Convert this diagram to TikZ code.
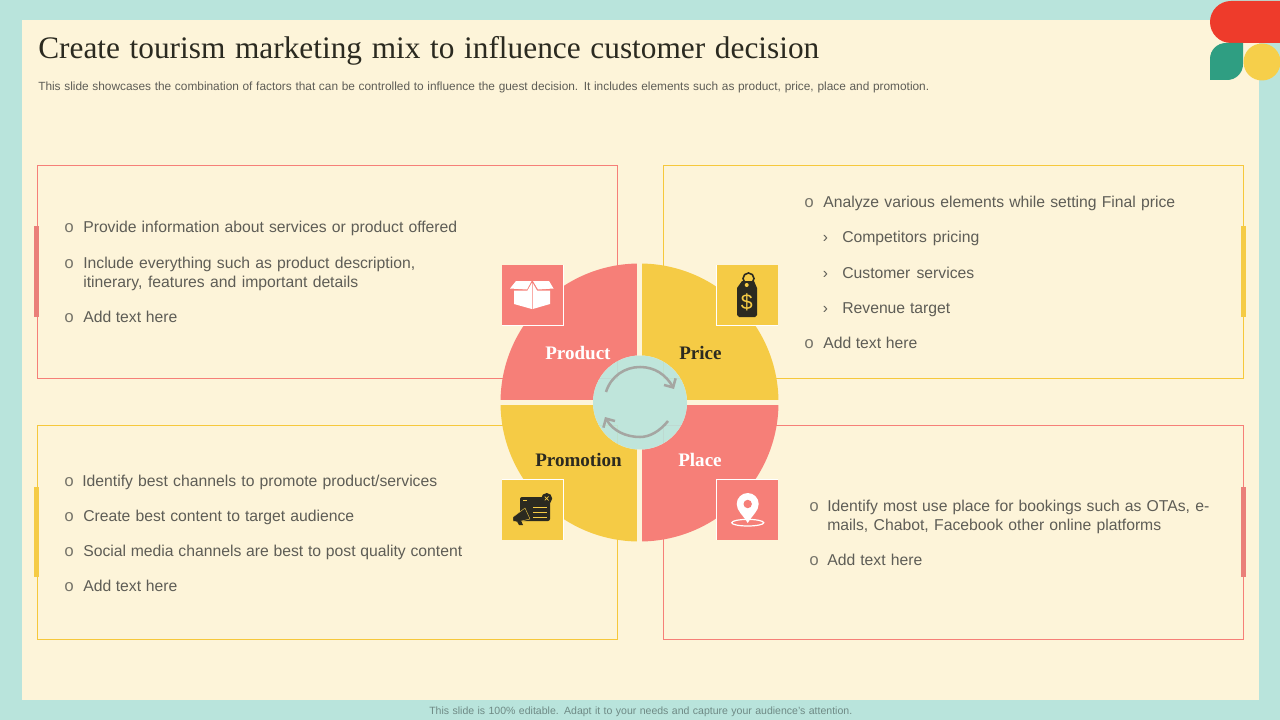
\documentclass[tikz,border=0pt]{standalone}
\usepackage{fontspec}
\setmainfont{Liberation Sans}
\newfontfamily\serifface{Liberation Serif}
\newfontfamily\monoface{Liberation Mono}
\usetikzlibrary{arrows.meta}
\definecolor{teal}{HTML}{B9E4DC}
\definecolor{cream}{HTML}{FDF4D9}
\definecolor{salmon}{HTML}{F67F78}
\definecolor{salmonline}{HTML}{F67F78}
\definecolor{gold}{HTML}{F5CB45}
\definecolor{goldline}{HTML}{F6C83C}
\definecolor{logored}{HTML}{EE3B2B}
\definecolor{logogreen}{HTML}{2F9E82}
\definecolor{logoyellow}{HTML}{F6CF4A}
\definecolor{ink}{HTML}{2B2A20}
\definecolor{bodyink}{HTML}{5E5D56}
\definecolor{arrowgrey}{HTML}{A5A6A2}
\definecolor{footink}{HTML}{6F8A85}
\newdimen\pxu \pxu=.75pt
\tikzset{
  x=.75pt,y=-.75pt,
  bodytext/.style={anchor=base west,inner sep=0pt,text=bodyink,font=\fontsize{11.8pt}{14pt}\selectfont},
  bulletmark/.style={anchor=base,inner sep=0pt,text=bodyink!85!cream,font=\monoface\fontsize{12.5pt}{14pt}\selectfont},
  chevronmark/.style={anchor=base,inner sep=0pt,text=bodyink,font=\fontsize{11.6pt}{14pt}\selectfont},
  quadlabel/.style={anchor=base west,inner sep=0pt,font=\serifface\bfseries\fontsize{14.3pt}{16pt}\selectfont},
  outline/.style={line width=1.05pt,fill=none},
  roundarrow/.style={draw=arrowgrey,line width=1.9pt,-{Straight Barb[length=5pt,width=10pt,line width=1.9pt]}},
}
\newcommand{\tline}[5]{\node[bodytext] (#1) at (#2,#3) {\makebox[#4\pxu][s]{#5}};}
\begin{document}
\begin{tikzpicture}
\useasboundingbox (0,0) rectangle (1280,720);
% background
\fill[teal] (0,0) rectangle (1280,720);
\fill[cream] (22,20) rectangle (1259,700);
% logo
\fill[logored] (1280,1) -- (1231,1) .. controls (1219.4,1) and (1210,10.4) .. (1210,22) .. controls (1210,33.6) and (1219.4,43) .. (1231,43) -- (1280,43) -- cycle;
\fill[logogreen] (1243,43) -- (1226,43) .. controls (1217,43) and (1210,50) .. (1210,59) -- (1210,80) -- (1227,80) .. controls (1236,80) and (1243,73) .. (1243,64) -- cycle;
\fill[logoyellow] (1262,62) circle[radius=18.5];
% title
\node[anchor=base west,inner sep=0pt,text=ink,font=\serifface\fontsize{23.5pt}{28pt}\selectfont] (title) at (38,59) {\makebox[781\pxu][s]{Create tourism marketing mix to influence customer decision}};
\node[anchor=base west,inner sep=0pt,text=bodyink,font=\fontsize{8.9pt}{10pt}\selectfont] (subtitle) at (38,91) {\makebox[891\pxu][s]{This slide showcases the combination of factors that can be controlled to influence the guest decision. It includes elements such as product, price, place and promotion.}};
% frames
\draw[outline,salmonline] (37.5,165.5) rectangle (617.5,378.5);
\draw[outline,goldline] (663.5,165.5) rectangle (1243.5,378.5);
\draw[outline,goldline] (37.5,425.5) rectangle (617.5,639.5);
\draw[outline,salmonline] (663.5,425.5) rectangle (1243.5,639.5);
% side bars
\fill[salmon!90!gray] (34,226) rectangle (39,317);
\fill[gold] (1241,226) rectangle (1246,317);
\fill[gold] (34,487) rectangle (39,577);
\fill[salmon!90!gray] (1241,487) rectangle (1246,577);
% pie quadrants
\begin{scope}
\clip (639.5,402.5) circle[radius=139];
\fill[salmon] (495,255) rectangle (637,400);
\fill[gold] (642,255) rectangle (785,400);
\fill[gold] (495,405) rectangle (637,550);
\fill[salmon] (642,405) rectangle (785,550);
\end{scope}
% hub
\fill[cream] (640,402.5) circle[radius=47];
\begin{scope}
\clip (640,402.5) circle[radius=47];
\draw[outline,salmonline] (37.5,165.5) rectangle (617.5,378.5);
\draw[outline,goldline] (663.5,165.5) rectangle (1243.5,378.5);
\draw[outline,goldline] (37.5,425.5) rectangle (617.5,639.5);
\draw[outline,salmonline] (663.5,425.5) rectangle (1243.5,639.5);
\end{scope}
\fill[teal,fill opacity=.9] (640,402.5) circle[radius=47];
\coordinate (topstart) at (606,392);
\coordinate (topend) at (674,389);
\coordinate (botstart) at (668,421);
\coordinate (botend) at (605,417);
\draw[roundarrow] (topstart) .. controls (611,376) and (625,367) .. (640,367) .. controls (655,367) and (666,375) .. (topend);
\draw[roundarrow] (botstart) .. controls (660,431) and (650,437) .. (640,437) .. controls (626,437) and (613,431) .. (botend);
% icon tiles
\fill[salmon] (502,265) rectangle (563,325);
\draw[white,line width=.75pt] (563.5,265) -- (563.5,325.5) -- (502,325.5);
\fill[gold] (717,265) rectangle (778,325);
\draw[white,line width=.75pt] (716.5,265) -- (716.5,325.5) -- (778,325.5);
\fill[gold] (502,480) rectangle (563,540);
\draw[white,line width=.75pt] (502,479.5) -- (563.5,479.5) -- (563.5,540);
\fill[salmon] (717,480) rectangle (778,540);
\draw[white,line width=.75pt] (778,479.5) -- (716.5,479.5) -- (716.5,540);
% box icon
\fill[white] (510,288.5) -- (516,281) -- (531.5,281) -- (527,289.5) -- cycle;
\fill[white] (553.5,288.5) -- (549,281) -- (533,281) -- (538,289.5) -- cycle;
\fill[white] (514,290.5) -- (527.5,290.5) -- (531.8,283) -- (531.8,309) -- (514,304) -- cycle;
\fill[white] (550,290.5) -- (537,290.5) -- (532.7,283) -- (532.7,309) -- (550,304) -- cycle;
% tag icon
\draw[ink,line width=1.2pt] (748.5,278.5) circle[radius=5.5];
\fill[ink] (742,281) -- (754,281) -- (757,288) -- (757,315) -- (755,317) -- (739,317) -- (737,315) -- (737,288) -- cycle;
\fill[gold] (746.7,285) circle[radius=2];
\node[inner sep=0pt,text=gold,font=\fontsize{16pt}{18pt}\selectfont] (dollar) at (746.8,302.5) {\$};
% promotion icon
\fill[ink,rounded corners=1.5pt] (520,497) rectangle (550,521);
\draw[gold,line width=.6pt] (533,507) -- (547,507) (533,512) -- (547,512) (533,517) -- (547,517) (523,500) -- (527,500);
\fill[ink] (546.7,498.5) circle[radius=5.5];
\draw[gold,line width=.5pt] (544.8,500.4) -- (548.6,496.6) (544.8,496.6) -- (548.6,500.4);
\fill[ink,draw=gold,line width=.3pt] (513,517) -- (525,508) -- (530,519) -- (517,522) -- (513,521) -- cycle;
\fill[ink] (517,521.5) -- (521,520.5) -- (523,525) -- (519,525) -- cycle;
% pin icon
\draw[white,line width=.9pt] (747.7,522.7) ellipse[x radius=16,y radius=3.3];
\fill[white] (747.7,523) .. controls (743,515) and (736.7,511) .. (736.7,504) .. controls (736.7,498) and (741.6,493) .. (747.7,493) .. controls (753.8,493) and (758.7,498) .. (758.7,504) .. controls (758.7,511) and (752.4,515) .. cycle;
\fill[salmon] (747.7,504) circle[radius=4.2];
% quadrant labels
\node[quadlabel,text=white] (product) at (545,359) {Product};
\node[quadlabel,text=ink] (price) at (679,359) {Price};
\node[quadlabel,text=ink] (promotion) at (535,466) {Promotion};
\node[quadlabel,text=white] (place) at (678,466) {Place};
% top-left text
\node[bulletmark] (b1) at (69,233) {o};
\tline{t1}{83}{233}{374}{Provide information about services or product offered}
\node[bulletmark] (b2) at (69,268) {o};
\tline{t2}{83}{268}{332}{Include everything such as product description,}
\tline{t3}{83}{287}{275}{itinerary, features and important details}
\node[bulletmark] (b3) at (69,322) {o};
\tline{t4}{83}{322}{94}{Add text here}
% top-right text
\node[bulletmark] (b4) at (809,208) {o};
\tline{t5}{823}{208}{352}{Analyze various elements while setting Final price}
\node[chevronmark] (c1) at (825.5,243) {›};
\tline{t6}{842}{243}{137}{Competitors pricing}
\node[chevronmark] (c2) at (825.5,278) {›};
\tline{t7}{842}{278}{132}{Customer services}
\node[chevronmark] (c3) at (825.5,313) {›};
\tline{t8}{842}{313}{108}{Revenue target}
\node[bulletmark] (b5) at (809,348) {o};
\tline{t9}{823}{348}{94}{Add text here}
% bottom-left text
\node[bulletmark] (b6) at (69,486) {o};
\tline{t10}{82}{486}{355}{Identify best channels to promote product/services}
\node[bulletmark] (b7) at (69,521) {o};
\tline{t11}{83}{521}{271}{Create best content to target audience}
\node[bulletmark] (b8) at (69,556) {o};
\tline{t12}{83}{556}{379}{Social media channels are best to post quality content}
\node[bulletmark] (b9) at (69,591) {o};
\tline{t13}{83}{591}{94}{Add text here}
% bottom-right text
\node[bulletmark] (b10) at (814,511) {o};
\tline{t14}{827}{511}{382}{Identify most use place for bookings such as OTAs, e-}
\tline{t15}{827}{530}{334}{mails, Chabot, Facebook other online platforms}
\node[bulletmark] (b11) at (814,565) {o};
\tline{t16}{827}{565}{95}{Add text here}
% footer
\node[anchor=base west,inner sep=0pt,text=footink,font=\fontsize{7.9pt}{9pt}\selectfont] (footer) at (429,714) {\makebox[423\pxu][s]{This slide is 100\% editable.  Adapt it to your needs and capture your audience's attention.}};
\end{tikzpicture}
\end{document}
